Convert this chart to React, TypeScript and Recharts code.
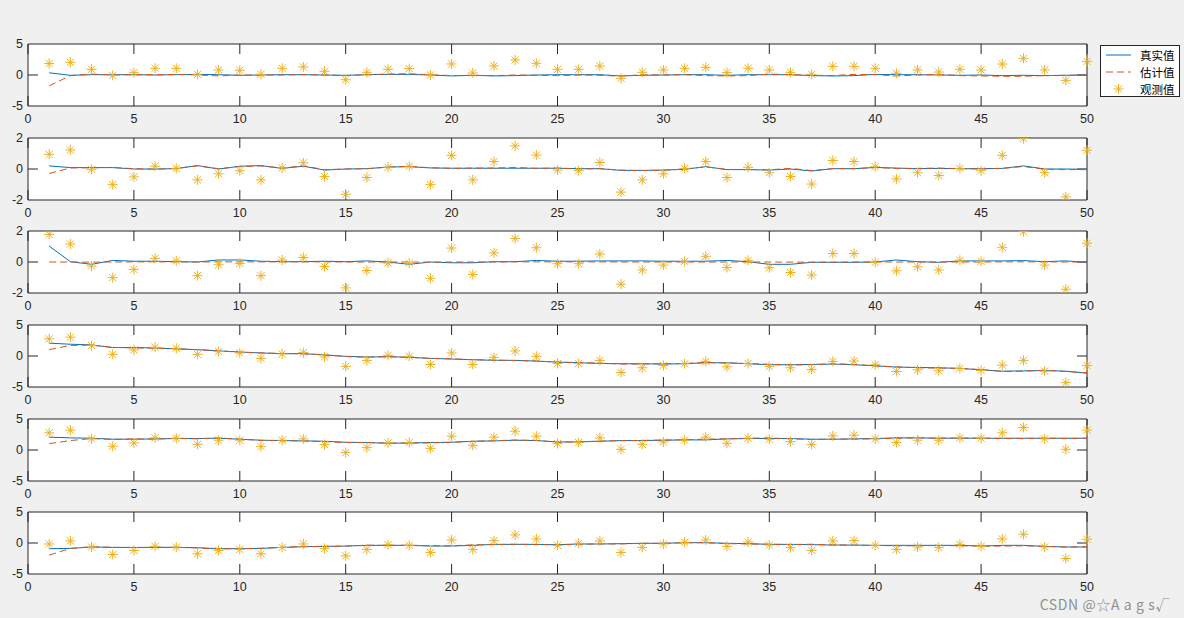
import React from "react";
import {
  CartesianGrid,
  ComposedChart,
  Line,
  ReferenceArea,
  ReferenceLine,
  Scatter,
  XAxis,
  YAxis,
} from "recharts";

const steps = [
  1, 2, 3, 4, 5, 6, 7, 8, 9, 10, 11, 12, 13, 14, 15, 16, 17, 18, 19, 20, 21, 22, 23, 24, 25,
  26, 27, 28, 29, 30, 31, 32, 33, 34, 35, 36, 37, 38, 39, 40, 41, 42, 43, 44, 45, 46, 47, 48, 49, 50,
];
const xTicks = [0, 5, 10, 15, 20, 25, 30, 35, 40, 45, 50];

const truth1 = [0.35, -0.05, 0.05, 0.05, 0.05, 0.0, 0.05, 0.1, 0.05, -0.05, 0.0, 0.05, 0.05, 0.0, -0.05, 0.05, 0.1, 0.1, 0.0, -0.15, -0.05, -0.15, -0.1, 0.0, 0.05, 0.05, 0.05, -0.15, -0.05, 0.0, 0.05, 0.05, -0.05, 0.05, 0.05, 0.05, -0.1, -0.15, -0.1, 0.1, 0.05, 0.05, 0.0, -0.05, 0.0, -0.1, -0.05, -0.1, -0.05, 0.0];
const est1 = [-1.75, -0.1, 0.15, 0.0, 0.05, 0.05, 0.1, 0.0, -0.15, 0.0, 0.0, 0.0, 0.05, 0.0, -0.1, 0.05, 0.15, 0.2, 0.05, -0.1, -0.05, -0.1, 0.0, -0.05, -0.1, 0.0, -0.05, -0.2, 0.05, 0.0, 0.05, -0.1, -0.15, -0.1, 0.15, 0.05, -0.05, -0.1, 0.1, 0.05, -0.15, 0.0, 0.1, -0.1, -0.15, -0.2, -0.2, -0.1, -0.05, 0.0];
const obs1 = [1.84, 2.05, 0.92, -0.05, 0.38, 1.08, 1.08, 0.11, 0.81, 0.76, 0.11, 1.08, 1.3, 0.6, -0.76, 0.43, 0.92, 1.03, 0.0, 1.78, 0.32, 1.46, 2.43, 1.89, 0.92, 0.92, 1.45, -0.54, 0.43, 0.81, 1.08, 1.24, 0.38, 1.08, 0.81, 0.43, 0.11, 1.4, 1.4, 1.08, 0.27, 0.81, 0.48, 0.92, 0.81, 1.77, 2.69, 0.81, -0.86, 2.2];

const truth2 = [0.2, 0.09, 0.09, 0.09, 0.0, 0.0, 0.02, 0.22, 0.0, 0.18, 0.22, 0.04, 0.18, -0.07, 0.0, 0.02, 0.13, 0.15, 0.07, 0.05, 0.05, 0.05, 0.05, 0.05, 0.05, 0.02, 0.02, -0.09, -0.09, -0.07, -0.02, 0.15, -0.04, -0.04, -0.07, 0.0, -0.13, 0.02, 0.02, 0.1, 0.06, 0.02, 0.04, 0.02, 0.02, 0.04, 0.2, 0.0, 0.0, -0.02];
const est2 = [-0.29, 0.07, 0.08, 0.1, 0.02, -0.02, 0.05, 0.2, 0.02, 0.15, 0.2, 0.06, 0.2, -0.04, 0.0, 0.02, 0.12, 0.17, 0.08, 0.04, 0.06, 0.06, 0.1, 0.04, 0.06, 0.0, 0.02, -0.07, -0.1, -0.08, 0.0, 0.14, -0.03, -0.03, -0.05, 0.04, -0.1, 0.03, 0.02, 0.1, 0.03, 0.04, 0.06, 0.02, 0.0, 0.04, 0.16, -0.02, -0.04, -0.04];
const obs2 = [0.95, 1.23, -0.02, -1.01, -0.51, 0.18, 0.04, -0.7, -0.31, -0.11, -0.7, 0.07, 0.4, -0.48, -1.63, -0.55, 0.11, 0.18, -1.01, 0.88, -0.7, 0.48, 1.49, 0.9, -0.07, -0.11, 0.42, -1.49, -0.7, -0.31, 0.04, 0.48, -0.55, 0.11, -0.24, -0.48, -0.97, 0.55, 0.48, 0.15, -0.64, -0.24, -0.42, 0.04, -0.11, 0.88, 1.96, -0.24, -1.8, 1.21];

const truth3 = [1.03, 0.02, -0.15, 0.1, 0.05, 0.05, 0.02, 0.0, 0.13, 0.13, 0.05, 0.02, 0.02, 0.05, 0.02, 0.07, 0.0, -0.15, 0.0, -0.05, -0.05, 0.02, 0.02, 0.1, 0.05, 0.05, 0.07, 0.07, 0.07, 0.05, 0.05, 0.05, 0.1, 0.02, -0.15, -0.15, -0.02, -0.02, -0.02, 0.0, 0.13, 0.02, -0.02, 0.07, 0.07, 0.07, 0.09, 0.02, 0.07, -0.02];
const est3 = [0.0, 0.0, -0.01, 0.0, 0.01, 0.01, 0.01, 0.0, 0.01, 0.01, 0.01, 0.01, 0.01, 0.01, 0.0, 0.0, 0.0, 0.0, -0.01, 0.0, 0.0, 0.0, 0.01, 0.01, 0.01, 0.01, 0.01, 0.0, 0.0, 0.0, 0.0, 0.0, 0.0, 0.0, 0.0, -0.01, -0.01, -0.01, 0.0, 0.0, 0.0, 0.0, 0.0, 0.0, 0.0, 0.01, 0.01, 0.01, 0.0, 0.0];
const obs3 = [1.78, 1.16, -0.26, -1.01, -0.48, 0.24, 0.07, -0.88, -0.18, -0.09, -0.88, 0.13, 0.29, -0.29, -1.67, -0.55, -0.07, -0.07, -1.05, 0.9, -0.81, 0.59, 1.52, 0.92, -0.11, -0.11, 0.51, -1.43, -0.51, -0.2, 0.04, 0.37, -0.35, 0.11, -0.37, -0.68, -0.84, 0.55, 0.55, -0.02, -0.57, -0.31, -0.51, 0.11, 0.04, 0.95, 1.96, -0.2, -1.76, 1.21];

const truth4 = [2.07, 1.9, 1.79, 1.36, 1.36, 1.3, 1.14, 1.03, 0.82, 0.65, 0.49, 0.38, 0.38, 0.16, -0.05, -0.16, -0.11, -0.22, -0.38, -0.49, -0.6, -0.7, -0.7, -0.82, -0.98, -1.09, -1.2, -1.25, -1.25, -1.3, -1.25, -1.09, -1.09, -1.25, -1.41, -1.41, -1.36, -1.3, -1.41, -1.58, -1.79, -1.85, -1.9, -2.0, -2.23, -2.45, -2.4, -2.34, -2.45, -2.77];
const est4 = [1.03, 1.7, 1.75, 1.4, 1.3, 1.25, 1.2, 1.0, 0.85, 0.6, 0.5, 0.4, 0.35, 0.2, -0.1, -0.2, -0.1, -0.2, -0.4, -0.45, -0.6, -0.65, -0.75, -0.8, -1.0, -1.05, -1.15, -1.3, -1.3, -1.25, -1.2, -1.05, -1.15, -1.2, -1.35, -1.45, -1.4, -1.25, -1.35, -1.6, -1.75, -1.9, -1.95, -2.0, -2.2, -2.5, -2.45, -2.3, -2.5, -2.7];
const obs4 = [2.77, 3.04, 1.68, 0.27, 0.98, 1.41, 1.25, 0.27, 0.71, 0.49, -0.38, 0.33, 0.54, -0.16, -1.68, -0.71, 0.11, -0.05, -1.36, 0.49, -1.36, -0.22, 0.82, -0.05, -1.2, -1.2, -0.71, -2.66, -1.9, -1.52, -1.25, -0.87, -1.74, -1.2, -1.68, -1.9, -2.17, -0.87, -0.82, -1.41, -2.5, -2.23, -2.39, -2.01, -2.34, -1.47, -0.71, -2.45, -4.29, -1.52];

const truth5 = [2.07, 1.96, 1.9, 1.74, 1.74, 1.79, 1.85, 1.85, 1.9, 1.74, 1.58, 1.52, 1.47, 1.41, 1.25, 1.2, 1.09, 1.14, 1.2, 1.25, 1.41, 1.47, 1.58, 1.52, 1.3, 1.3, 1.41, 1.52, 1.52, 1.58, 1.63, 1.63, 1.79, 1.85, 1.85, 1.85, 1.74, 1.74, 1.79, 1.85, 1.96, 1.96, 1.9, 1.9, 1.9, 1.9, 1.9, 1.9, 1.9, 1.9];
const est5 = [1.03, 1.52, 1.85, 1.7, 1.8, 1.75, 1.9, 1.8, 1.95, 1.75, 1.55, 1.5, 1.45, 1.35, 1.2, 1.2, 1.1, 1.1, 1.15, 1.25, 1.4, 1.5, 1.6, 1.55, 1.25, 1.3, 1.45, 1.5, 1.55, 1.6, 1.65, 1.75, 1.8, 1.9, 1.95, 1.8, 1.7, 1.75, 1.75, 1.8, 1.9, 1.95, 1.9, 1.95, 1.9, 1.85, 1.85, 1.9, 1.85, 1.9];
const obs5 = [2.77, 3.2, 1.79, 0.6, 1.14, 1.96, 1.9, 0.92, 1.58, 1.58, 0.54, 1.58, 1.79, 0.87, -0.43, 0.38, 1.14, 1.2, 0.27, 2.23, 0.76, 2.07, 3.04, 2.23, 1.03, 1.2, 1.96, 0.11, 0.92, 1.3, 1.58, 2.07, 1.09, 1.9, 1.74, 1.36, 0.87, 2.28, 2.39, 1.79, 1.2, 1.58, 1.58, 1.96, 1.9, 2.77, 3.64, 1.79, 0.11, 3.2];

const truth6 = [-0.92, -0.87, -0.65, -0.71, -0.71, -0.71, -0.71, -0.76, -0.92, -0.92, -0.87, -0.71, -0.6, -0.54, -0.49, -0.38, -0.38, -0.38, -0.49, -0.49, -0.38, -0.22, -0.22, -0.22, -0.27, -0.16, -0.16, -0.11, -0.05, -0.05, 0.05, 0.05, -0.05, -0.11, -0.22, -0.22, -0.27, -0.33, -0.33, -0.38, -0.38, -0.38, -0.38, -0.38, -0.49, -0.38, -0.38, -0.54, -0.65, -0.65];
const est6 = [-1.96, -0.87, -0.6, -0.7, -0.75, -0.7, -0.7, -0.8, -0.95, -0.9, -0.85, -0.7, -0.55, -0.6, -0.5, -0.35, -0.4, -0.35, -0.45, -0.45, -0.3, -0.25, -0.2, -0.25, -0.3, -0.2, -0.15, -0.15, -0.05, -0.05, 0.05, 0.05, -0.1, -0.15, -0.2, -0.25, -0.2, -0.3, -0.35, -0.4, -0.45, -0.45, -0.4, -0.45, -0.5, -0.5, -0.45, -0.55, -0.65, -0.6];
const obs6 = [-0.16, 0.33, -0.65, -1.85, -1.2, -0.54, -0.65, -1.74, -1.2, -1.03, -1.74, -0.71, -0.16, -0.87, -2.07, -1.03, -0.27, -0.38, -1.52, 0.49, -1.03, 0.38, 1.3, 0.65, -0.38, -0.05, 0.33, -1.52, -0.71, -0.16, 0.11, 0.49, -0.54, 0.16, -0.33, -0.76, -1.2, 0.33, 0.38, -0.38, -1.03, -0.65, -0.71, -0.22, -0.54, 0.65, 1.41, -0.65, -2.5, 0.6];

const panels = [
  { truth: truth1, est: est1, obs: obs1, lim: 5, top: 44 },
  { truth: truth2, est: est2, obs: obs2, lim: 2, top: 137.5 },
  { truth: truth3, est: est3, obs: obs3, lim: 2, top: 231 },
  { truth: truth4, est: est4, obs: obs4, lim: 5, top: 325 },
  { truth: truth5, est: est5, obs: obs5, lim: 5, top: 418.5 },
  { truth: truth6, est: est6, obs: obs6, lim: 5, top: 512 },
];

const AXIS = "#262626";
const BLUE = "#0072BD";
const ORANGE = "#D95319";
const YELLOW = "#EDB120";
const tickFont = { fill: AXIS, fontSize: 12.5, fontFamily: "Liberation Sans, Arial, sans-serif" };

const PLOT_W = 1059;
const PLOT_H = 62;
const MARGIN_TOP = 10;
const X_AXIS_H = 26;
const TICK_PX = 10;

function Asterisk({ cx, cy }: { cx?: number; cy?: number }) {
  if (cx == null || cy == null) return null;
  const r = 5;
  const d = 3.6;
  return (
    <g stroke={YELLOW} strokeWidth={1}>
      <line x1={cx - r} y1={cy} x2={cx + r} y2={cy} />
      <line x1={cx} y1={cy - r} x2={cx} y2={cy + r} />
      <line x1={cx - d} y1={cy - d} x2={cx + d} y2={cy + d} />
      <line x1={cx - d} y1={cy + d} x2={cx + d} y2={cy - d} />
    </g>
  );
}

function Subplot({ truth, est, obs, lim, top }: { truth: number[]; est: number[]; obs: number[]; lim: number; top: number }) {
  const rows = steps.map((x, i) => ({ x, truth: truth[i], est: est[i], obs: obs[i] }));
  const yTicks = [-lim, 0, lim];
  // tick mark lengths expressed in data units
  const ty = (TICK_PX / PLOT_H) * 2 * lim;
  const tx = (TICK_PX / PLOT_W) * 50;
  return (
    <div style={{ position: "absolute", left: 0, top: top - MARGIN_TOP }}>
      <ComposedChart
        width={1184}
        height={MARGIN_TOP + PLOT_H + X_AXIS_H}
        data={rows}
        margin={{ top: MARGIN_TOP, right: 97, bottom: 0, left: 0 }}
      >
        <CartesianGrid fill="#ffffff" horizontal={false} vertical={false} />
        <XAxis
          dataKey="x"
          type="number"
          domain={[0, 50]}
          ticks={xTicks}
          height={X_AXIS_H}
          axisLine={false}
          tickLine={false}
          tickSize={0}
          tickMargin={8}
          tick={tickFont}
          interval={0}
        />
        <YAxis
          type="number"
          domain={[-lim, lim]}
          ticks={yTicks}
          width={28}
          axisLine={false}
          tickLine={false}
          tickSize={0}
          tickMargin={5}
          tick={tickFont}
          interval={0}
          allowDataOverflow
        />
        {xTicks.map((t) => (
          <ReferenceLine
            key={`b${t}`}
            segment={[{ x: t, y: -lim }, { x: t, y: -lim + ty }]}
            stroke={AXIS}
            strokeWidth={1}
          />
        ))}
        {xTicks.map((t) => (
          <ReferenceLine
            key={`t${t}`}
            segment={[{ x: t, y: lim }, { x: t, y: lim - ty }]}
            stroke={AXIS}
            strokeWidth={1}
          />
        ))}
        <ReferenceLine segment={[{ x: 0, y: 0 }, { x: tx, y: 0 }]} stroke={AXIS} strokeWidth={1} />
        <ReferenceLine segment={[{ x: 50 - tx, y: 0 }, { x: 50, y: 0 }]} stroke={AXIS} strokeWidth={1} />
        <Line dataKey="truth" stroke={BLUE} strokeWidth={1} dot={false} isAnimationActive={false} />
        <Line
          dataKey="est"
          stroke={ORANGE}
          strokeWidth={1}
          strokeDasharray="7 4"
          dot={false}
          isAnimationActive={false}
        />
        <Scatter dataKey="obs" shape={<Asterisk />} isAnimationActive={false} />
        <ReferenceArea
          x1={0}
          x2={50}
          y1={-lim}
          y2={lim}
          fill="none"
          fillOpacity={0}
          stroke={AXIS}
          strokeWidth={1}
        />
      </ComposedChart>
    </div>
  );
}

function LegendBox() {
  const rowStyle: React.CSSProperties = { position: "absolute", left: 0, height: 16, display: "flex", alignItems: "center" };
  const textStyle: React.CSSProperties = {
    marginLeft: 7,
    fontSize: 11.5,
    color: "#000",
    fontFamily: "'Noto Sans CJK SC', sans-serif",
  };
  return (
    <div
      style={{
        position: "absolute",
        left: 1100,
        top: 45,
        width: 80,
        height: 52,
        background: "#fff",
        border: `1px solid ${AXIS}`,
        boxSizing: "border-box",
      }}
    >
      <div style={{ ...rowStyle, top: 1 }}>
        <svg width={32} height={16}>
          <line x1={5} y1={8} x2={30} y2={8} stroke={BLUE} strokeWidth={1} />
        </svg>
        <span style={textStyle}>真实值</span>
      </div>
      <div style={{ ...rowStyle, top: 18 }}>
        <svg width={32} height={16}>
          <line x1={5} y1={8} x2={30} y2={8} stroke={ORANGE} strokeWidth={1} strokeDasharray="7 4" />
        </svg>
        <span style={textStyle}>估计值</span>
      </div>
      <div style={{ ...rowStyle, top: 35 }}>
        <svg width={32} height={16}>
          <Asterisk cx={17.5} cy={8} />
        </svg>
        <span style={textStyle}>观测值</span>
      </div>
    </div>
  );
}

export default function App() {
  return (
    <div
      style={{
        position: "absolute",
        left: 0,
        top: 0,
        width: 1184,
        height: 618,
        background: "#f0f0f0",
        overflow: "hidden",
      }}
    >
      {panels.map((p, i) => (
        <Subplot key={i} {...p} />
      ))}
      <LegendBox />
      <div
        style={{
          position: "absolute",
          right: 14,
          top: 594,
          fontSize: 14,
          letterSpacing: 0.6,
          color: "rgba(130,130,130,0.9)",
          fontFamily: "'Noto Sans CJK SC', sans-serif",
        }}
      >
        CSDN @☆A a g s√
      </div>
    </div>
  );
}
